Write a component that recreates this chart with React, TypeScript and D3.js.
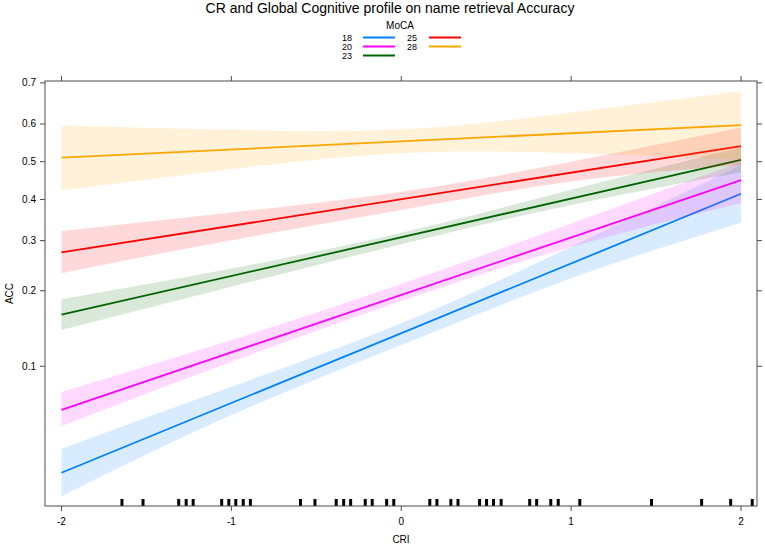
import React from "react";
import * as d3 from "d3";

// ---- data ----
const MOCA_LEVELS = ["18", "20", "23", "25", "28"];
const SERIES_COLORS = ["#0080ff", "#ff00ff", "#006400", "#ff0000", "#ffa500"];

// CRI values where the confidence band was read
const CRI_GRID = [-2, -1, 0, 1, 2];
// fitted line endpoints (ACC at CRI = -2 and CRI = 2)
const LINE_X = [-2, 2];
const FIT_18 = [0.0342, 0.4149];
const FIT_20 = [0.0651, 0.451];
const FIT_23 = [0.162, 0.505];
const FIT_25 = [0.274, 0.542];
const FIT_28 = [0.511, 0.597];

const LOWER_18 = [0.0268, 0.0617, 0.1225, 0.2223, 0.3418];
const UPPER_18 = [0.0438, 0.0819, 0.1499, 0.2864, 0.4912];
const LOWER_20 = [0.0553, 0.1045, 0.183, 0.286, 0.391];
const UPPER_20 = [0.0777, 0.1284, 0.212, 0.34, 0.499];
const LOWER_23 = [0.141, 0.207, 0.292, 0.386, 0.472];
const UPPER_23 = [0.186, 0.241, 0.318, 0.425, 0.539];
const LOWER_25 = [0.232, 0.301, 0.373, 0.447, 0.491];
const UPPER_25 = [0.322, 0.367, 0.42, 0.5, 0.591];
const LOWER_28 = [0.423, 0.48, 0.523, 0.523, 0.506];
const UPPER_28 = [0.597, 0.585, 0.586, 0.629, 0.681];

const RUG_CRI = [
  -1.644, -1.52, -1.31, -1.266, -1.225, -1.057, -1.015, -0.974, -0.93, -0.888,
  -0.593, -0.508, -0.383, -0.339, -0.298, -0.212, -0.171, -0.086, -0.044,
  0.168, 0.21, 0.292, 0.334, 0.461, 0.502, 0.543, 0.588, 0.756, 0.797, 0.88,
  0.924, 1.051, 1.473, 1.768, 1.939, 2.066,
];

const X_TICKS = [-2, -1, 0, 1, 2];
const Y_TICKS = [0.1, 0.2, 0.3, 0.4, 0.5, 0.6, 0.7];

const TITLE = "CR and Global Cognitive profile on name retrieval Accuracy";
const LEGEND_TITLE = "MoCA";
const X_LABEL = "CRI";
const Y_LABEL = "ACC";

const FITS = [FIT_18, FIT_20, FIT_23, FIT_25, FIT_28];
const LOWERS = [LOWER_18, LOWER_20, LOWER_23, LOWER_25, LOWER_28];
const UPPERS = [UPPER_18, UPPER_20, UPPER_23, UPPER_25, UPPER_28];

// ---- layout ----
const W = 765;
const H = 545;
const LEFT = 45;
const RIGHT = 757;
const TOP = 81;
const BOTTOM = 506;
const FONT = "'Liberation Sans', Arial, Helvetica, sans-serif";
const AXIS_COLOR = "#4d4d4d";
const TICK = 5;

const logit = (p: number) => Math.log(p / (1 - p));

export default function App() {
  const x = d3.scaleLinear().domain([-2.097, 2.094]).range([LEFT, RIGHT]);
  const yl = d3.scaleLinear().domain([-3.698, 0.867]).range([BOTTOM, TOP]);
  const y = (p: number) => yl(logit(p));

  const area = d3
    .area<[number, number, number]>()
    .x((d) => x(d[0]))
    .y0((d) => y(d[1]))
    .y1((d) => y(d[2]))
    .curve(d3.curveNatural);
  const line = d3
    .line<[number, number]>()
    .x((d) => x(d[0]))
    .y((d) => y(d[1]));

  const legendItem = (i: number) => {
    const col = i < 3 ? 0 : 1;
    const row = i < 3 ? i : i - 3;
    return { col, row };
  };

  return (
    <svg
      width={W}
      height={H}
      style={{ position: "absolute", left: 0, top: 0, background: "#fff" }}
      fontFamily={FONT}
    >
      <rect x={0} y={0} width={W} height={H} fill="#fff" />
      {/* title */}
      <text x={390} y={12.5} textAnchor="middle" fontSize={14} fill="#000">
        {TITLE}
      </text>
      {/* legend */}
      <text x={400} y={29} textAnchor="middle" fontSize={10} fill="#000">
        {LEGEND_TITLE}
      </text>
      {MOCA_LEVELS.map((lev, i) => {
        const { col, row } = legendItem(i);
        const ly = 37.5 + row * 9;
        const lx = col === 0 ? 352 : 417;
        const sx = col === 0 ? 363 : 429;
        return (
          <g key={lev}>
            <text x={lx} y={ly + 3} textAnchor="end" fontSize={9} fill="#000">
              {lev}
            </text>
            <line
              x1={sx}
              x2={sx + 32}
              y1={ly}
              y2={ly}
              stroke={SERIES_COLORS[i]}
              strokeWidth={2}
            />
          </g>
        );
      })}

      {/* bands and lines */}
      <defs>
        <clipPath id="plotclip">
          <rect x={LEFT} y={TOP} width={RIGHT - LEFT} height={BOTTOM - TOP} />
        </clipPath>
      </defs>
      <g clipPath="url(#plotclip)">
        {MOCA_LEVELS.map((lev, i) => {
          const bandData = CRI_GRID.map(
            (c, j) => [c, LOWERS[i][j], UPPERS[i][j]] as [number, number, number]
          );
          const lineData = LINE_X.map((c, j) => [c, FITS[i][j]] as [number, number]);
          return (
            <g key={lev}>
              <path d={area(bandData) || ""} fill={SERIES_COLORS[i]} fillOpacity={0.15} stroke="none" />
              <path d={line(lineData) || ""} fill="none" stroke={SERIES_COLORS[i]} strokeWidth={1.8} />
            </g>
          );
        })}
        {/* rug */}
        {RUG_CRI.map((r, i) => (
          <line key={i} x1={x(r)} x2={x(r)} y1={BOTTOM - 7} y2={BOTTOM} stroke="#000" strokeWidth={3} />
        ))}
      </g>

      {/* frame */}
      <rect
        x={LEFT}
        y={TOP}
        width={RIGHT - LEFT}
        height={BOTTOM - TOP}
        fill="none"
        stroke={AXIS_COLOR}
        strokeWidth={1}
      />
      {/* x ticks */}
      {X_TICKS.map((t) => (
        <g key={"x" + t}>
          <line x1={x(t)} x2={x(t)} y1={BOTTOM} y2={BOTTOM + TICK} stroke={AXIS_COLOR} />
          <line x1={x(t)} x2={x(t)} y1={TOP} y2={TOP - TICK} stroke={AXIS_COLOR} />
          <text x={x(t)} y={BOTTOM + 19} textAnchor="middle" fontSize={10} fill="#000">
            {String(t)}
          </text>
        </g>
      ))}
      {/* y ticks */}
      {Y_TICKS.map((t) => (
        <g key={"y" + t}>
          <line x1={LEFT} x2={LEFT - TICK} y1={y(t)} y2={y(t)} stroke={AXIS_COLOR} />
          <line x1={RIGHT} x2={RIGHT + TICK} y1={y(t)} y2={y(t)} stroke={AXIS_COLOR} />
          <text x={36} y={y(t) + 3.5} textAnchor="end" fontSize={10} fill="#000">
            {t.toFixed(1)}
          </text>
        </g>
      ))}
      {/* axis labels */}
      <text x={(LEFT + RIGHT) / 2} y={543} textAnchor="middle" fontSize={10} fill="#000">
        {X_LABEL}
      </text>
      <text
        transform={`translate(13, ${(TOP + BOTTOM) / 2}) rotate(-90)`}
        textAnchor="middle"
        fontSize={10}
        fill="#000"
      >
        {Y_LABEL}
      </text>
    </svg>
  );
}
